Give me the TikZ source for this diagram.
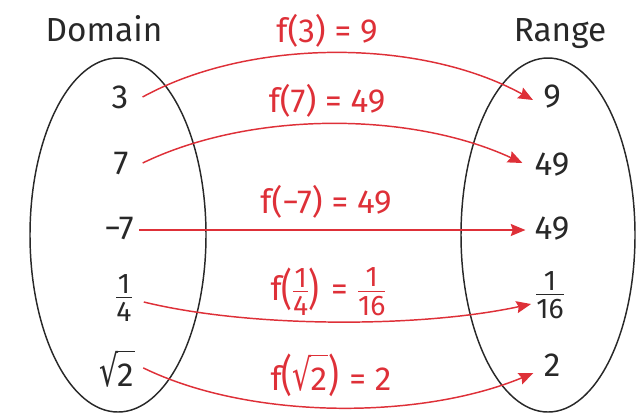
\documentclass[tikz,border=0pt]{standalone}
\usepackage{amsmath}
\usepackage{fontspec}
\setmainfont{Fira Sans}
\newfontfamily\djv{DejaVu Sans}
\usepackage{graphicx}
\usetikzlibrary{arrows.meta,calc,shapes.geometric}
\definecolor{fred}{RGB}{222,48,56}
\definecolor{ink}{RGB}{40,40,40}
\newcommand\myfr[2]{\ensuremath{\vcenter{\hbox{\vbox{\offinterlineskip\halign{\hfil##\hfil\cr\scalebox{0.85}{#1}\cr\noalign{\kern3pt\hrule height0.8pt\kern3pt}\scalebox{0.85}{#2}\cr}}}}}}
\newcommand\bigp[1]{\scalebox{1}[1.3]{#1}}
\newcommand\msqrt[1]{\mbox{\setbox0\hbox{\djv\fontsize{25}{28}\selectfont\scalebox{0.9}[1.3]{√}}\copy0\kern-0.8pt\vbox to\ht0{\hrule height 1.1pt\vfil\hbox{#1\kern1pt}}}}
\begin{document}
\begin{tikzpicture}[x=0.75pt,y=-0.75pt,
  txt/.style={font=\fontsize{25}{28}\selectfont, text=ink, inner sep=0pt},
  lab/.style={font=\fontsize{25}{28}\selectfont, text=fred, inner sep=0pt, anchor=base},
  set/.style={draw=ink, line width=1.1pt, ellipse, inner sep=0pt},
  arr/.style={draw=fred, line width=1.1pt, -{Stealth[length=11pt,width=9pt,inset=1.5pt]}}]
\useasboundingbox (0,0) rectangle (638,415);
\node[set, minimum width=132pt, minimum height=265.5pt] (dom) at (118,235) {};
\node[set, minimum width=130.5pt, minimum height=265.5pt] (ran) at (548,235) {};
\node[txt, anchor=base] (tdom) at (104,41) {Domain};
\node[txt, anchor=base] (tran) at (560,41) {Range};
% domain values
\node[txt] (n3) at (120,97) {3};
\node[txt] (n7) at (121,164) {7};
\node[txt] (nm7) at (119,229) {−7};
\node[txt] (nq) at (124,298) {\myfr{1}{4}};
\node[txt, anchor=base] (ns) at (117,386) {\msqrt{2}};
% range values
\node[txt] (r9) at (552,97) {9};
\node[txt] (r49a) at (552,165) {49};
\node[txt] (r49b) at (552,229) {49};
\node[txt] (r16) at (550,295) {\myfr{1}{16}};
\node[txt] (r2) at (552,365) {2};
% labels
\node[lab] (l1) at (327,42) {f(3) = 9};
\node[lab] (l2) at (327,112) {f(7) = 49};
\node[lab] (l3) at (326,213) {f(−7) = 49};
\node[lab] (l4) at (328,300) {f\raisebox{-3.5pt}{\bigp{(}}\kern0.5pt\myfr{1}{4}\kern0.5pt\raisebox{-3.5pt}{\bigp{)}}\kern2pt{} = \kern1pt\myfr{1}{16}};
\node[lab] (l5) at (331,390) {f\bigp{(}\msqrt{2}\bigp{)}\kern1pt{} = 2};
% arrows
\draw[arr] ($(n3.east)+(14,0)$) .. controls (250,38) and (420,38) .. ($(r9.west)+(-10,3)$);
\draw[arr] ($(n7.east)+(14,-1)$) .. controls (250,111) and (410,111) .. ($(r49a.west)+(-12,-2)$);
\draw[arr] ($(nm7.east)+(5,1)$) -- ($(r49b.west)+(-9,1)$);
\draw[arr] ($(nq.east)+(12,4)$) .. controls (250,328) and (420,328) .. ($(r16.west)+(-5,9)$);
\draw[arr] ($(ns.east)+(8,-1)$) .. controls (250,420) and (420,420) .. ($(r2.west)+(-10,8)$);
\end{tikzpicture}
\end{document}
